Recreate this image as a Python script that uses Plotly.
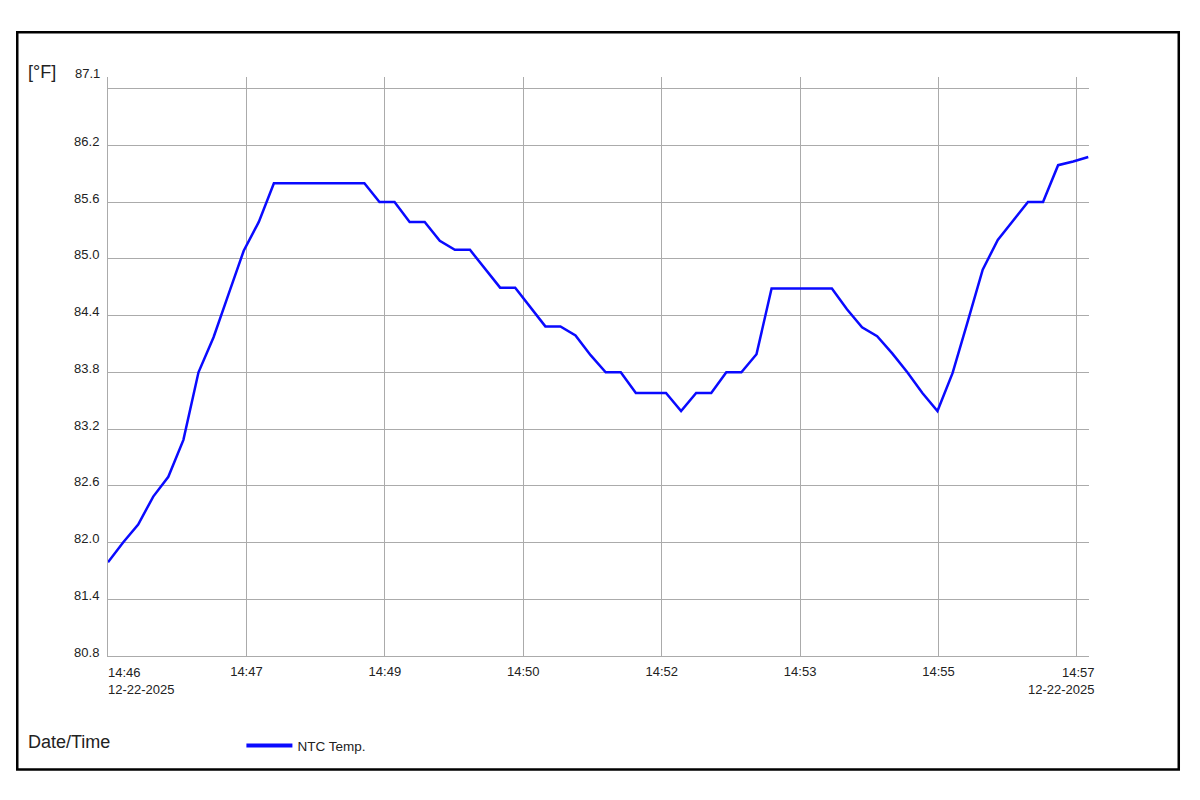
import numpy as np
import pandas as pd
import plotly.graph_objects as go

# ---- data -------------------------------------------------------------
start_time = "2025-12-22 14:46:00"
sample_interval = "10350ms"
temps_f = [
    81.84, 82.06, 82.26, 82.57, 82.79, 83.20, 83.95, 84.34, 84.82, 85.30,
    85.62, 86.05, 86.05, 86.05, 86.05, 86.05, 86.05, 86.05, 85.84, 85.84,
    85.62, 85.62, 85.41, 85.31, 85.31, 85.10, 84.89, 84.89, 84.68, 84.46,
    84.46, 84.36, 84.14, 83.95, 83.95, 83.72, 83.72, 83.72, 83.52, 83.72,
    83.72, 83.95, 83.95, 84.15, 84.88, 84.88, 84.88, 84.88, 84.88, 84.65,
    84.45, 84.35, 84.16, 83.95, 83.72, 83.52, 83.94, 84.51, 85.09, 85.42,
    85.63, 85.84, 85.84, 86.25, 86.29, 86.34,
]
times = pd.date_range(start=start_time, periods=len(temps_f), freq=sample_interval)

x_tick_step_s = 95
x_tick_labels = ["14:46", "14:47", "14:49", "14:50", "14:52", "14:53", "14:55", "14:57"]
date_label = "12-22-2025"

y_min, y_max = 80.8, 87.1
y_tick_labels = ["80.8", "81.4", "82.0", "82.6", "83.2", "83.8",
                 "84.4", "85.0", "85.6", "86.2", "87.1"]
series_name = "NTC Temp."

# ---- figure -----------------------------------------------------------
t0 = pd.Timestamp(start_time)
x_tickvals = [t0 + pd.Timedelta(seconds=k * x_tick_step_s) for k in range(len(x_tick_labels))]
y_tickvals = list(np.linspace(y_min, y_max, len(y_tick_labels)))

GRID = "#ababab"
FONT = "Liberation Sans, Arial, sans-serif"
TXT = "#222222"

fig = go.Figure()
fig.add_trace(go.Scatter(
    x=times, y=temps_f, mode="lines", name=series_name,
    line=dict(color="#0a0aff", width=2.5), showlegend=False,
    legendgroup="ntc", hoverinfo="x+y",
))
# legend entry
fig.add_trace(go.Scatter(
    x=[None], y=[None], mode="lines", name=series_name,
    line=dict(color="#0a0aff", width=4), legendgroup="ntc", showlegend=True,
))

fig.update_xaxes(
    type="date",
    range=[times[0], times[-1] + pd.Timedelta(milliseconds=500)],
    tickmode="array", tickvals=x_tickvals,
    ticktext=[""] + x_tick_labels[1:-1] + [""],
    showgrid=True, gridcolor=GRID, gridwidth=1,
    showline=True, linecolor=GRID, linewidth=1,
    zeroline=False, ticks="",
    tickfont=dict(family=FONT, size=13, color=TXT),
    ticklabelstandoff=3,
)
fig.update_yaxes(
    range=[y_min, y_max + 0.129],
    tickmode="array", tickvals=y_tickvals,
    ticktext=y_tick_labels[:-1] + [""],
    showgrid=True, gridcolor=GRID, gridwidth=1,
    showline=True, linecolor=GRID, linewidth=1,
    zeroline=False, ticks="",
    tickfont=dict(family=FONT, size=13, color=TXT),
    ticklabelstandoff=5, ticklabelshift=-4,
)

annotations = [
    dict(x=0, xref="paper", y=y_tickvals[-1], yref="y", text=y_tick_labels[-1],
         xanchor="right", yanchor="middle", xshift=-6, yshift=15, showarrow=False,
         font=dict(family=FONT, size=13, color=TXT)),
    dict(x=x_tickvals[0], xref="x", y=0, yref="paper",
         text=x_tick_labels[0] + "<br>" + date_label, align="left",
         xanchor="left", yanchor="top", xshift=-2, yshift=-7, showarrow=False,
         font=dict(family=FONT, size=13, color=TXT)),
    dict(x=x_tickvals[-1], xref="x", y=0, yref="paper",
         text=x_tick_labels[-1] + "<br>" + date_label, align="right",
         xanchor="right", yanchor="top", xshift=20, yshift=-7, showarrow=False,
         font=dict(family=FONT, size=13, color=TXT)),
    dict(x=-0.0835, xref="paper", y=1.0, yref="paper", text="[°F]",
         xanchor="left", yanchor="middle", yshift=5, showarrow=False,
         font=dict(family=FONT, size=18, color=TXT)),
    dict(x=-0.0835, xref="paper", y=-0.148, yref="paper", text="Date/Time",
         xanchor="left", yanchor="middle", showarrow=False,
         font=dict(family=FONT, size=18, color=TXT)),
]

fig.update_layout(
    width=1200, height=800,
    margin=dict(l=100, r=119, t=69, b=152),
    plot_bgcolor="white", paper_bgcolor="white",
    font=dict(family=FONT, color=TXT),
    annotations=annotations,
    showlegend=True,
    legend=dict(orientation="h", x=0.136, xanchor="left", y=-0.155, yanchor="middle",
                itemwidth=46,
                font=dict(family=FONT, size=13.5, color=TXT), bgcolor="rgba(0,0,0,0)"),
    shapes=[dict(type="rect", xref="paper", yref="paper",
                 x0=-0.0925, x1=1.0915, y0=-0.196, y1=1.0775,
                 line=dict(color="black", width=2.5), fillcolor="rgba(0,0,0,0)",
                 layer="below")],
)

fig.write_html("out.html")
